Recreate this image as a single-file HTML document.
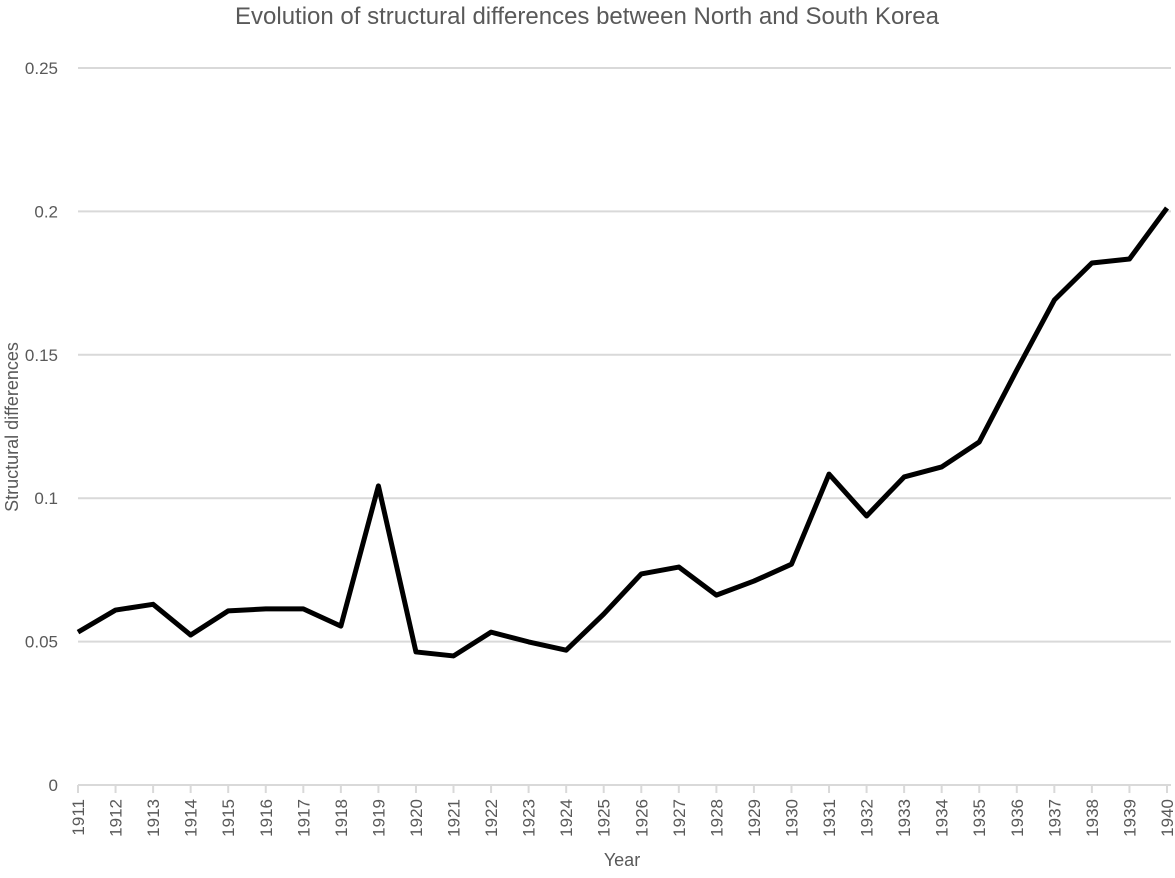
<!DOCTYPE html>
<html><head><meta charset="utf-8"><style>
body{margin:0;background:#fff;}
svg text{font-family:"Liberation Sans",sans-serif;fill:#595959;}
</style></head><body>
<svg id="chart" width="1175" height="873">
<text x="587" y="24" font-size="24" text-anchor="middle">Evolution of structural differences between North and South Korea</text>
<text transform="translate(18,427) rotate(-90)" font-size="18" text-anchor="middle">Structural differences</text>
<text x="622" y="866" font-size="18" text-anchor="middle">Year</text>
<g id="grid"></g><g id="xaxis"></g><g id="series"></g>
</svg>
<script>
const years=[1911,1912,1913,1914,1915,1916,1917,1918,1919,1920,1921,1922,1923,1924,1925,1926,1927,1928,1929,1930,1931,1932,1933,1934,1935,1936,1937,1938,1939,1940];
const values=[0.0533,0.061,0.063,0.0523,0.0607,0.0614,0.0614,0.0554,0.1043,0.0464,0.045,0.0533,0.0499,0.047,0.0596,0.0736,0.076,0.0662,0.0711,0.077,0.1084,0.0938,0.1074,0.1109,0.1196,0.1447,0.1691,0.182,0.1834,0.2012];
const yTicks=[0,0.05,0.1,0.15,0.2,0.25];
const yTickLabels=["0","0.05","0.1","0.15","0.2","0.25"];
const NS="http://www.w3.org/2000/svg";
const x0=78,x1=1167,yB=785,yT=68;
function xs(i){return x0+(x1-x0)*i/(years.length-1);}
function ys(v){return yB-(yB-yT)*v/0.25;}
const grid=document.getElementById('grid');
yTicks.forEach((t,i)=>{
 const l=document.createElementNS(NS,'line');
 l.setAttribute('x1',x0);l.setAttribute('x2',x1+4);l.setAttribute('y1',ys(t));l.setAttribute('y2',ys(t));
 l.setAttribute('stroke','#d9d9d9');l.setAttribute('stroke-width',2);
 
 
 grid.appendChild(l);
 const tx=document.createElementNS(NS,'text');
 tx.setAttribute('x',58);tx.setAttribute('y',ys(t)+6);tx.setAttribute('text-anchor','end');tx.setAttribute('font-size','17');
 tx.textContent=yTickLabels[i];
 
 
 grid.appendChild(tx);
});
const xa=document.getElementById('xaxis');
years.forEach((y,i)=>{
 const l=document.createElementNS(NS,'line');
 l.setAttribute('x1',xs(i));l.setAttribute('x2',xs(i));l.setAttribute('y1',yB);l.setAttribute('y2',yB+8);
 l.setAttribute('stroke','#d9d9d9');l.setAttribute('stroke-width',2);
 
 
 xa.appendChild(l);
 const tx=document.createElementNS(NS,'text');
 tx.setAttribute('transform','translate('+(xs(i)+6)+',799) rotate(-90)');
 tx.setAttribute('text-anchor','end');tx.setAttribute('font-size','17');
 tx.textContent=y;
 
 
 xa.appendChild(tx);
});
const p=document.createElementNS(NS,'polyline');
p.setAttribute('points',values.map((v,i)=>xs(i)+','+ys(v)).join(' '));
p.setAttribute('fill','none');p.setAttribute('stroke','#000');p.setAttribute('stroke-width',5);p.setAttribute('stroke-linejoin','round');


document.getElementById('series').appendChild(p);
</script>
</body></html>
